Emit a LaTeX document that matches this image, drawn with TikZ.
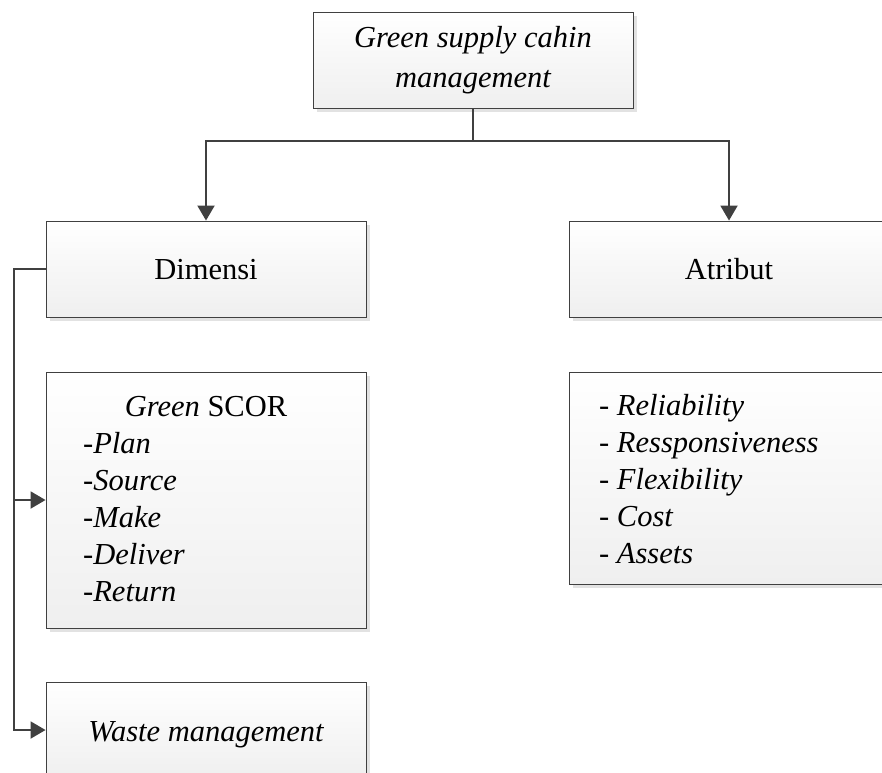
\documentclass[tikz,border=0pt]{standalone}
\usepackage{fontspec}
\setmainfont{Liberation Serif}
\usetikzlibrary{arrows.meta,shadows}
\definecolor{edgegray}{HTML}{404040}
\definecolor{shadowgray}{HTML}{E2E2E2}
\definecolor{fillbottom}{HTML}{EFEFEF}
\tikzset{
  box/.style={rectangle, draw=edgegray, line width=0.9pt,
    top color=white, bottom color=fillbottom,
    drop shadow={shadow xshift=4pt, shadow yshift=-4pt, fill=shadowgray, opacity=1},
    minimum width=320pt, inner sep=0pt},
  link/.style={draw=edgegray, line width=2pt},
  arrowlink/.style={link, -{Triangle[width=17pt,length=15pt]}},
  label/.style={inner sep=0pt, anchor=base},
  item/.style={inner sep=0pt, anchor=base west}
}
\begin{document}
\begin{tikzpicture}[x=1pt, y=-1pt, font=\fontsize{30.5}{37}\selectfont]
\useasboundingbox (0,0) rectangle (882,772);

% boxes
\node[box, minimum height=96pt] (top) at (473,60) {};
\node[box, minimum height=96pt] (dim) at (206,269) {};
\node[box, minimum height=96pt] (atr) at (729,269) {};
\node[box, minimum height=256pt] (scor) at (206,500) {};
\node[box, minimum height=212pt] (attrs) at (729,478) {};
\node[box, minimum height=96pt] (waste) at (206,730) {};

% headings
\node[label] (topa) at (473,47) {\itshape Green supply cahin};
\node[label] (topb) at (473,87) {\itshape management};
\node[label] (dimt) at (206,279) {Dimensi};
\node[label] (atrt) at (729,279) {Atribut};
\node[label] (scort) at (206,416) {\textit{Green} SCOR};
\node[label] (wastet) at (206,741) {\itshape Waste management};

% SCOR processes
\foreach \t [count=\i] in {Plan,Source,Make,Deliver,Return}
  \node[item] (s\i) at (83,416+37*\i) {-\textit{\t}};

% performance attributes
\foreach \t [count=\i] in {Reliability,Ressponsiveness,Flexibility,Cost,Assets}
  \node[item] (a\i) at (599,378+37*\i) {- \textit{\t}};

% connectors
\coordinate (fork) at (top.south |- 0,141);
\coordinate (side) at (14,0 |- dim.west);
\draw[link] (top.south) -- (fork);
\draw[arrowlink] (fork) -| (dim.north);
\draw[arrowlink] (fork) -| (atr.north);
\draw[arrowlink] (dim.west) -- (side) |- (waste.west);
\draw[arrowlink] (side |- scor.west) -- (scor.west);
\end{tikzpicture}
\end{document}
